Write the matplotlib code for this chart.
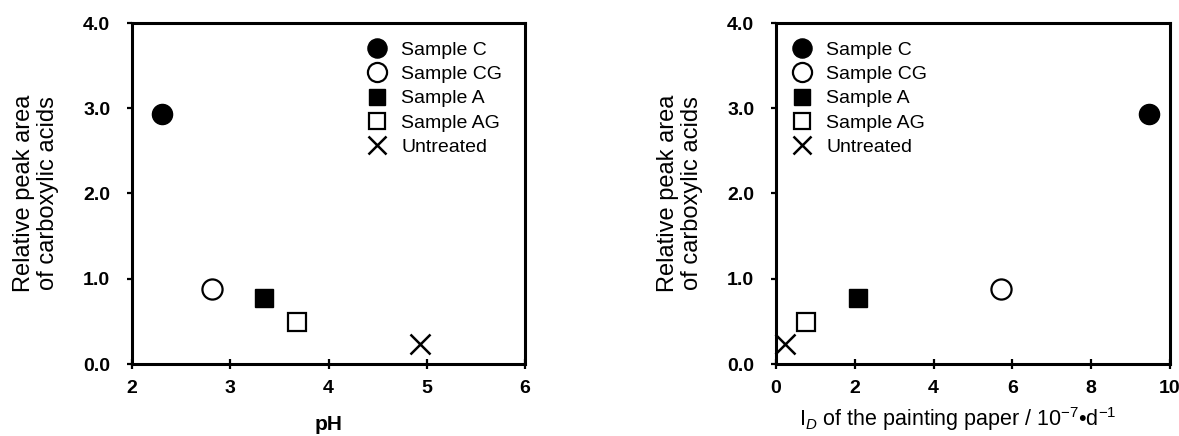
import matplotlib
matplotlib.use("Agg")
import matplotlib.pyplot as plt

plt.rcParams['font.family'] = ['Liberation Sans', 'DejaVu Sans']
plt.rcParams['mathtext.fontset'] = 'custom'
plt.rcParams['mathtext.rm'] = 'Liberation Sans'
plt.rcParams['mathtext.it'] = 'Liberation Sans:italic'

samples = ["Sample C", "Sample CG", "Sample A", "Sample AG", "Untreated"]
ph = [2.31, 2.81, 3.34, 3.68, 4.93]
id_paper = [9.46, 5.71, 2.07, 0.77, 0.22]
peak_area = [2.93, 0.88, 0.77, 0.49, 0.23]
x1_ticks = [2, 3, 4, 5, 6]
x2_ticks = [0, 2, 4, 6, 8, 10]
y_ticks = [0.0, 1.0, 2.0, 3.0, 4.0]

styles = [
    dict(marker='o', mfc='black', mec='black', ms=14.5),
    dict(marker='o', mfc='white', mec='black', ms=14.5, mew=1.6),
    dict(marker='s', mfc='black', mec='black', ms=12.5),
    dict(marker='s', mfc='white', mec='black', ms=12.5, mew=1.6),
    dict(marker='x', color='black', mec='black', ms=14, mew=1.8),
]

fig = plt.figure(figsize=(11.79, 4.36), dpi=100)
ax1 = fig.add_axes([132/1179, 72/436, 393/1179, 341/436])
ax2 = fig.add_axes([776/1179, 72/436, 394/1179, 341/436])

for ax, xs, xlim, xticks in [(ax1, ph, (2, 6), x1_ticks), (ax2, id_paper, (0, 10), x2_ticks)]:
    for i, lab in enumerate(samples):
        ax.plot([xs[i]], [peak_area[i]], linestyle='none', label=lab, clip_on=False, **styles[i])
    ax.set_xlim(*xlim)
    ax.set_ylim(0, 4)
    ax.set_xticks(xticks)
    ax.set_yticks(y_ticks)
    ax.set_yticklabels([f"{v:.1f}" for v in y_ticks])
    for s in ax.spines.values():
        s.set_linewidth(2.2)
    ax.tick_params(axis='x', direction='inout', length=7.5, width=1.6, labelsize=14, pad=8)
    ax.tick_params(axis='y', direction='out', length=3.6, width=1.6, labelsize=14, pad=12)
    for t in ax.get_xticklabels() + ax.get_yticklabels():
        t.set_fontweight('bold')
    ax.set_ylabel("Relative peak area\nof carboxylic acids", fontsize=17, linespacing=1.15)
    ax.yaxis.set_label_coords(-0.185, 0.5)

ax1.set_xlabel("pH", fontsize=15, fontweight='bold')
ax1.xaxis.set_label_coords(0.5, -0.15)
ax2.set_xlabel("I$_{D}$ of the painting paper / 10$^{-7}$\u2022d$^{-1}$", fontsize=15.5)
ax2.xaxis.set_label_coords(0.462, -0.12)

leg_kw = dict(frameon=False, fontsize=14, labelspacing=0.34, handletextpad=0.75,
              handlelength=1.0, borderaxespad=0, borderpad=0, markerscale=0.95)
ax1.legend(loc='upper left', bbox_to_anchor=(0.598, 0.946), **leg_kw)
ax2.legend(loc='upper left', bbox_to_anchor=(0.041, 0.946), **leg_kw)

fig.savefig("out.png", dpi=100)
